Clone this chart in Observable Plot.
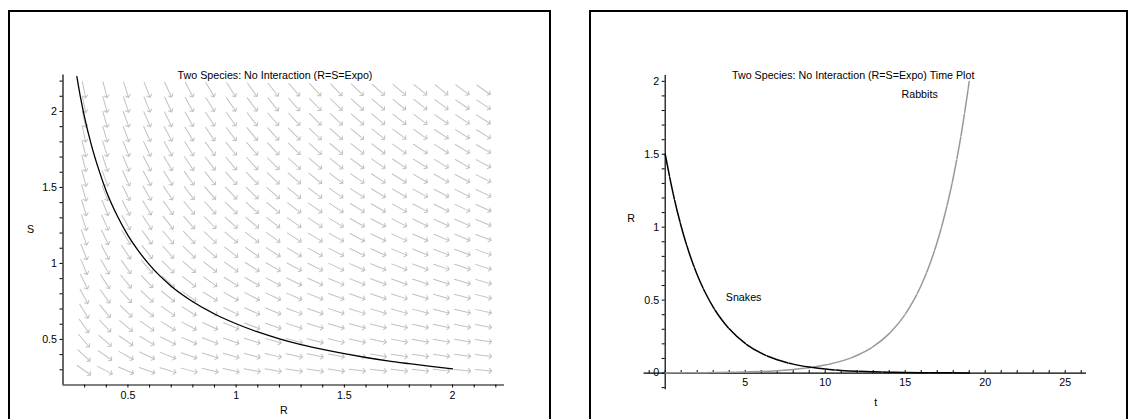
<!DOCTYPE html>
<html><head><meta charset="utf-8">
<script src="https://cdn.jsdelivr.net/npm/d3@7"></script>
<script src="https://cdn.jsdelivr.net/npm/@observablehq/plot@0.6"></script>
<style>
body{margin:0;background:#fff;}
#wrap{position:relative;width:1130px;height:419px;overflow:hidden;background:#fff;font-family:"Liberation Sans",Arial,sans-serif;}
.frame{position:absolute;border:2px solid #000;box-sizing:border-box;pointer-events:none;}
#left,#right{position:absolute;top:0;}
</style></head><body>
<div id="wrap">
<div id="left" style="left:0"></div>
<div id="right" style="left:565px"></div>
<div class="frame" style="left:8px;top:10px;width:543px;height:430px"></div>
<div class="frame" style="left:589px;top:10px;width:539px;height:430px"></div>
</div>
<script>
// ---------- data: phase plane ----------
const titleL = "Two Species: No Interaction (R=S=Expo)";
const phaseR = [0.264,0.28,0.30,0.33,0.36,0.40,0.45,0.50,0.55,0.60,0.70,0.80,0.90,1.00,1.10,1.20,1.30,1.40,1.50,1.60,1.70,1.80,1.90,2.00];
const phaseS = [2.23,2.10,1.96,1.785,1.64,1.475,1.315,1.185,1.08,0.99,0.85,0.748,0.667,0.603,0.549,0.504,0.466,0.434,0.406,0.381,0.359,0.340,0.322,0.306];
const fieldR = [0.2971,0.3943,0.4914,0.5886,0.6857,0.7829,0.8800,0.9771,1.0743,1.1714,1.2686,1.3657,1.4629,1.5600,1.6571,1.7543,1.8514,1.9486,2.0457,2.1429];
const fieldS = [0.2971,0.3943,0.4914,0.5886,0.6857,0.7829,0.8800,0.9771,1.0743,1.1714,1.2686,1.3657,1.4629,1.5600,1.6571,1.7543,1.8514,1.9486,2.0457,2.1429];
const rabbitRate = 1;   // dR/dt = +R
const snakeRate = -1;   // dS/dt = -S
const ticksRL = [0.3,0.4,0.5,0.6,0.7,0.8,0.9,1,1.1,1.2,1.3,1.4,1.5,1.6,1.7,1.8,1.9,2,2.1,2.2];
const ticksSL = [0.3,0.4,0.5,0.6,0.7,0.8,0.9,1,1.1,1.2,1.3,1.4,1.5,1.6,1.7,1.8,1.9,2,2.1,2.2];
const labelsL = [0.5,1,1.5,2];

// ---------- data: time plot ----------
const titleR = "Two Species: No Interaction (R=S=Expo) Time Plot";
const snakesT = [0,0.5,1,1.5,2,2.5,3,3.5,4,5,6,7,8,9,10,11,12,13,14,15,16,17,18,19];
const snakesV = [1.5,1.228,1.005,0.823,0.674,0.552,0.452,0.370,0.303,0.203,0.136,0.091,0.061,0.041,0.027,0.018,0.012,0.008,0.0055,0.0037,0.0025,0.0017,0.0011,0.0007];
const rabbitsT = [0,1,2,3,4,5,6,7,8,9,10,11,12,13,14,15,15.5,16,16.5,17,17.5,18,18.5,19];
const rabbitsV = [0.001,0.0015,0.0022,0.0033,0.005,0.0074,0.011,0.0164,0.0245,0.0366,0.0546,0.0815,0.1215,0.181,0.270,0.403,0.493,0.602,0.735,0.898,1.097,1.339,1.636,1.998];
const seriesNames = ["Rabbits","Snakes"];
const seriesLabelT = [15.9,4.9];
const seriesLabelV = [1.91,0.52];
const ticksT = [-1,0,1,2,3,4,5,6,7,8,9,10,11,12,13,14,15,16,17,18,19,20,21,22,23,24,25,26];
const labelsT = [5,10,15,20,25];
const ticksV = [-0.1,0,0.1,0.2,0.3,0.4,0.5,0.6,0.7,0.8,0.9,1,1.1,1.2,1.3,1.4,1.5,1.6,1.7,1.8,1.9,2];
const labelsV = [0,0.5,1,1.5,2];

const font = "'Liberation Sans', Arial, sans-serif";
const fs = "10.7px";

// ---------- left: phase plane ----------
const L = {width:560, height:419, mL:62.5, mR:56, mT:74.5, mB:34.5, x:[0.2,2.24], y:[0.2,2.24]};
const kx = (L.width - L.mL - L.mR) / (L.x[1] - L.x[0]);
const ky = (L.height - L.mT - L.mB) / (L.y[1] - L.y[0]);
const field = fieldR.flatMap(r => fieldS.map(s => ({R: r, S: s})));
const phase = phaseR.map((r, i) => ({R: r, S: phaseS[i]}));

const left = Plot.plot({
  width: L.width, height: L.height,
  marginLeft: L.mL, marginRight: L.mR, marginTop: L.mT, marginBottom: L.mB,
  style: {fontFamily: font, fontSize: fs, color: "#000", background: "transparent", overflow: "visible"},
  x: {domain: L.x, ticks: ticksRL, tickFormat: d => labelsL.includes(d) ? String(d) : "", tickSize: 3, tickPadding: 3, label: null},
  y: {domain: L.y, ticks: ticksSL, tickFormat: d => labelsL.includes(d) ? String(d) : "", tickSize: 3, tickPadding: 3, label: null},
  marks: [
    Plot.vector(field, {
      x: "R", y: "S", length: 16.5, anchor: "middle", r: 2.6,
      rotate: d => Math.atan2(rabbitRate * d.R * kx, snakeRate * d.S * ky) * 180 / Math.PI,
      stroke: "#c2c2c2", strokeWidth: 1
    }),
    Plot.line(phase, {x: "R", y: "S", stroke: "#000", strokeWidth: 1.3, curve: "monotone-x"}),
    Plot.ruleX([L.x[0]], {stroke: "#000", strokeWidth: 1.2}),
    Plot.ruleY([L.y[0]], {stroke: "#000", strokeWidth: 1.2}),
    Plot.text([titleL], {frameAnchor: "top-left", dx: 274.5 - L.mL, dy: -4, textAnchor: "middle", fontSize: fs}),
    Plot.text(["R"], {frameAnchor: "bottom", dy: 29, fontSize: fs}),
    Plot.text(["S"], {frameAnchor: "left", dx: -36, fontSize: fs})
  ]
});
document.getElementById("left").appendChild(left);

// ---------- right: time plot ----------
const Rt = {width:565, height:419, mL:99.7, mR:44, mT:75, mB:29.7, x:[0,26.33], y:[-0.115,2.04]};
const snakes = snakesT.map((t, i) => ({t, v: snakesV[i]}));
const rabbits = rabbitsT.map((t, i) => ({t, v: rabbitsV[i]}));
const seriesLabels = seriesNames.map((n, i) => ({n, t: seriesLabelT[i], v: seriesLabelV[i]}));

const right = Plot.plot({
  width: Rt.width, height: Rt.height,
  marginLeft: Rt.mL, marginRight: Rt.mR, marginTop: Rt.mT, marginBottom: Rt.mB,
  style: {fontFamily: font, fontSize: fs, color: "#000", background: "transparent", overflow: "visible"},
  x: {domain: Rt.x, axis: null},
  y: {domain: Rt.y, ticks: ticksV, tickFormat: d => labelsV.includes(d) ? String(d) : "", tickSize: 3, tickPadding: 3, label: null},
  marks: [
    Plot.ruleX([0], {stroke: "#000", strokeWidth: 1.2}),
    Plot.ruleY([0], {x1: -1.32, x2: Rt.x[1], stroke: "#000", strokeWidth: 1.2}),
    Plot.vector(ticksT, {x: d => d, y: 0, length: 3, rotate: 0, anchor: "start", r: 0, stroke: "#000", strokeWidth: 1, strokeLinecap: "butt"}),
    Plot.text(labelsT, {x: d => d, y: 0, dy: 10, text: d => String(d), fontSize: fs}),
    Plot.line(rabbits, {x: "t", y: "v", stroke: "#999", strokeWidth: 1.5, curve: "monotone-x", strokeDasharray: "22,1.5"}),
    Plot.line(snakes, {x: "t", y: "v", stroke: "#000", strokeWidth: 1.5, curve: "monotone-x", strokeDasharray: "22,1.5"}),
    Plot.text(seriesLabels, {x: "t", y: "v", text: "n", fontSize: fs}),
    Plot.text([titleR], {frameAnchor: "top-left", dx: 287.7 - Rt.mL, dy: -4, textAnchor: "middle", fontSize: fs}),
    Plot.text(["t"], {frameAnchor: "bottom", dy: 16, fontSize: fs}),
    Plot.text(["R"], {frameAnchor: "left", dx: -38, dy: -14, fontSize: fs})
  ]
});
document.getElementById("right").appendChild(right);
</script>
</body></html>
